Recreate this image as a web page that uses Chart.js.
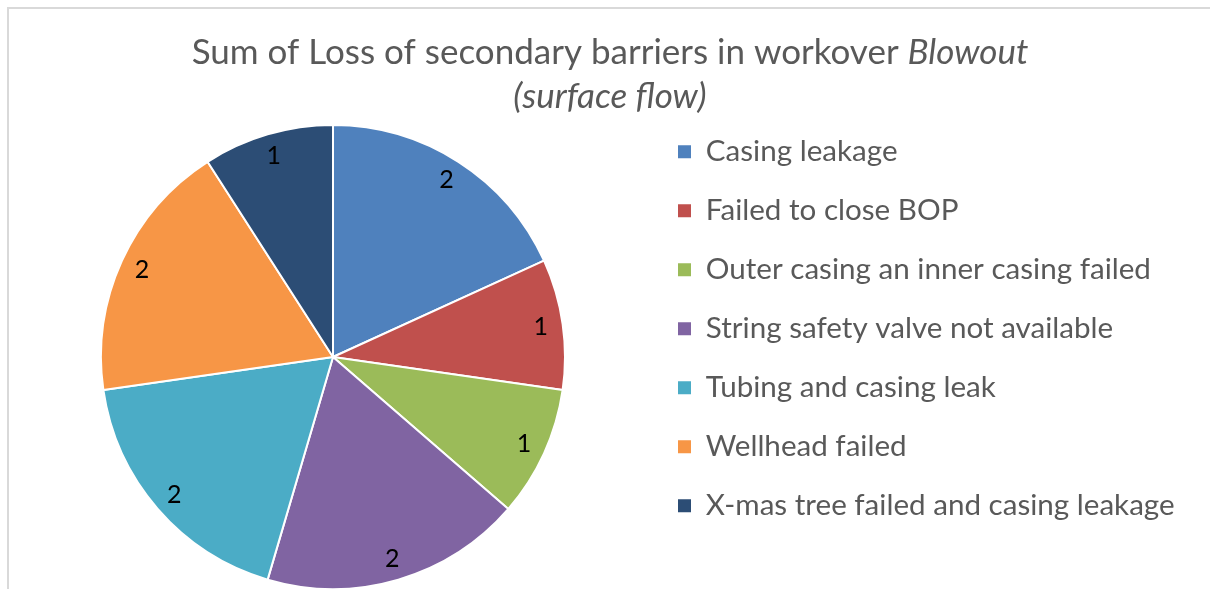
<!DOCTYPE html>
<html>
<head>
<meta charset="utf-8">
<title>Loss of secondary barriers in workover blowout</title>
<script src="https://cdn.jsdelivr.net/npm/chart.js@4.4.1/dist/chart.umd.min.js"></script>
<style>
  html, body { margin: 0; padding: 0; background: #fff; }
  canvas { display: block; }
</style>
</head>
<body>
<canvas id="chart" width="1210" height="589"></canvas>
<script>
const categories = [
  "Casing leakage",
  "Failed to close BOP",
  "Outer casing an inner casing failed",
  "String safety valve not available",
  "Tubing and casing leak",
  "Wellhead failed",
  "X-mas tree failed and casing leakage",
];
const counts = [2, 1, 1, 2, 2, 2, 1];
const sliceColors = ["#4f81bd", "#c0504d", "#9bbb59", "#8064a2", "#4bacc6", "#f79646", "#2c4d75"];

const titleMain = "Sum of Loss of secondary barriers in workover ";
const titleItalic = "Blowout";
const titleSecond = "(surface flow)";

const FONT = "Lato";
const textGray = "#595959";
const legendSize = 29.6;
const legendGap = 12;   // also the x offset of the boxes inside the legend
const rowHeight = 47;   // + legendGap = 59px per legend row
const boxSize = 13;
const labelSize = 25;
const titleSize = 35;

// legend box starts at x = 666, so the pie's area is 0..666
const m = document.createElement("canvas").getContext("2d");
m.font = `${legendSize}px ${FONT}`;
const widest = Math.max(...categories.map((c) => m.measureText(c).width));
const legendWidth = legendGap + boxSize + legendSize / 2 + widest + 10;
const rightPad = 1210 - 666 - legendWidth;

const frame = {
  id: "frame",
  beforeDraw(chart) {
    const { ctx } = chart;
    ctx.save();
    ctx.strokeStyle = "#d9d9d9";
    ctx.lineWidth = 2;
    ctx.beginPath();
    ctx.moveTo(8, 589);
    ctx.lineTo(8, 8);
    ctx.lineTo(1210, 8);
    ctx.stroke();
    ctx.restore();
  },
};

const valueLabels = {
  id: "valueLabels",
  afterDatasetsDraw(chart) {
    const { ctx } = chart;
    const meta = chart.getDatasetMeta(0);
    ctx.save();
    ctx.font = `${labelSize}px ${FONT}`;
    ctx.fillStyle = "#000";
    ctx.textAlign = "center";
    ctx.textBaseline = "middle";
    meta.data.forEach((arc, i) => {
      const { x, y, startAngle, endAngle, outerRadius } = arc.getProps(
        ["x", "y", "startAngle", "endAngle", "outerRadius"],
        true
      );
      const mid = (startAngle + endAngle) / 2;
      const r = outerRadius * 0.905;
      ctx.fillText(String(counts[i]), x + Math.cos(mid) * r, y + Math.sin(mid) * r);
    });
    ctx.restore();
  },
};

const mixedTitle = {
  id: "mixedTitle",
  afterDraw(chart) {
    const { ctx } = chart;
    const cx = 610;
    ctx.save();
    ctx.fillStyle = textGray;
    ctx.textBaseline = "middle";
    ctx.textAlign = "left";
    ctx.font = `${titleSize}px ${FONT}`;
    const w1 = ctx.measureText(titleMain).width;
    ctx.font = `italic ${titleSize}px ${FONT}`;
    const w2 = ctx.measureText(titleItalic).width;
    const x = cx - (w1 + w2) / 2;
    ctx.font = `${titleSize}px ${FONT}`;
    ctx.fillText(titleMain, x, 53);
    ctx.font = `italic ${titleSize}px ${FONT}`;
    ctx.fillText(titleItalic, x + w1, 53);
    ctx.textAlign = "center";
    ctx.fillText(titleSecond, cx, 97);
    ctx.restore();
  },
};

const pieDefaults = Chart.overrides.pie.plugins.legend.labels;

new Chart(document.getElementById("chart"), {
  type: "pie",
  data: {
    labels: categories,
    datasets: [
      {
        data: counts,
        backgroundColor: sliceColors,
        borderColor: "#ffffff",
        borderWidth: 2,
        radius: 232,
      },
    ],
  },
  options: {
    responsive: false,
    animation: false,
    layout: {
      padding: { left: 0, right: rightPad, top: 125, bottom: 0 },
    },
    plugins: {
      title: { display: false },
      tooltip: { enabled: false },
      legend: {
        position: "right",
        align: "start",
        labels: {
          boxWidth: boxSize,
          boxHeight: boxSize,
          padding: legendGap,
          color: textGray,
          font: { family: FONT, size: legendSize, lineHeight: rowHeight + "px" },
          // text as a one-line array so the row height follows the font lineHeight
          generateLabels(chart) {
            return pieDefaults
              .generateLabels(chart)
              .map((item) => ({ ...item, text: [item.text], lineWidth: 0 }));
          },
        },
      },
    },
  },
  plugins: [frame, valueLabels, mixedTitle],
});
</script>
</body>
</html>
